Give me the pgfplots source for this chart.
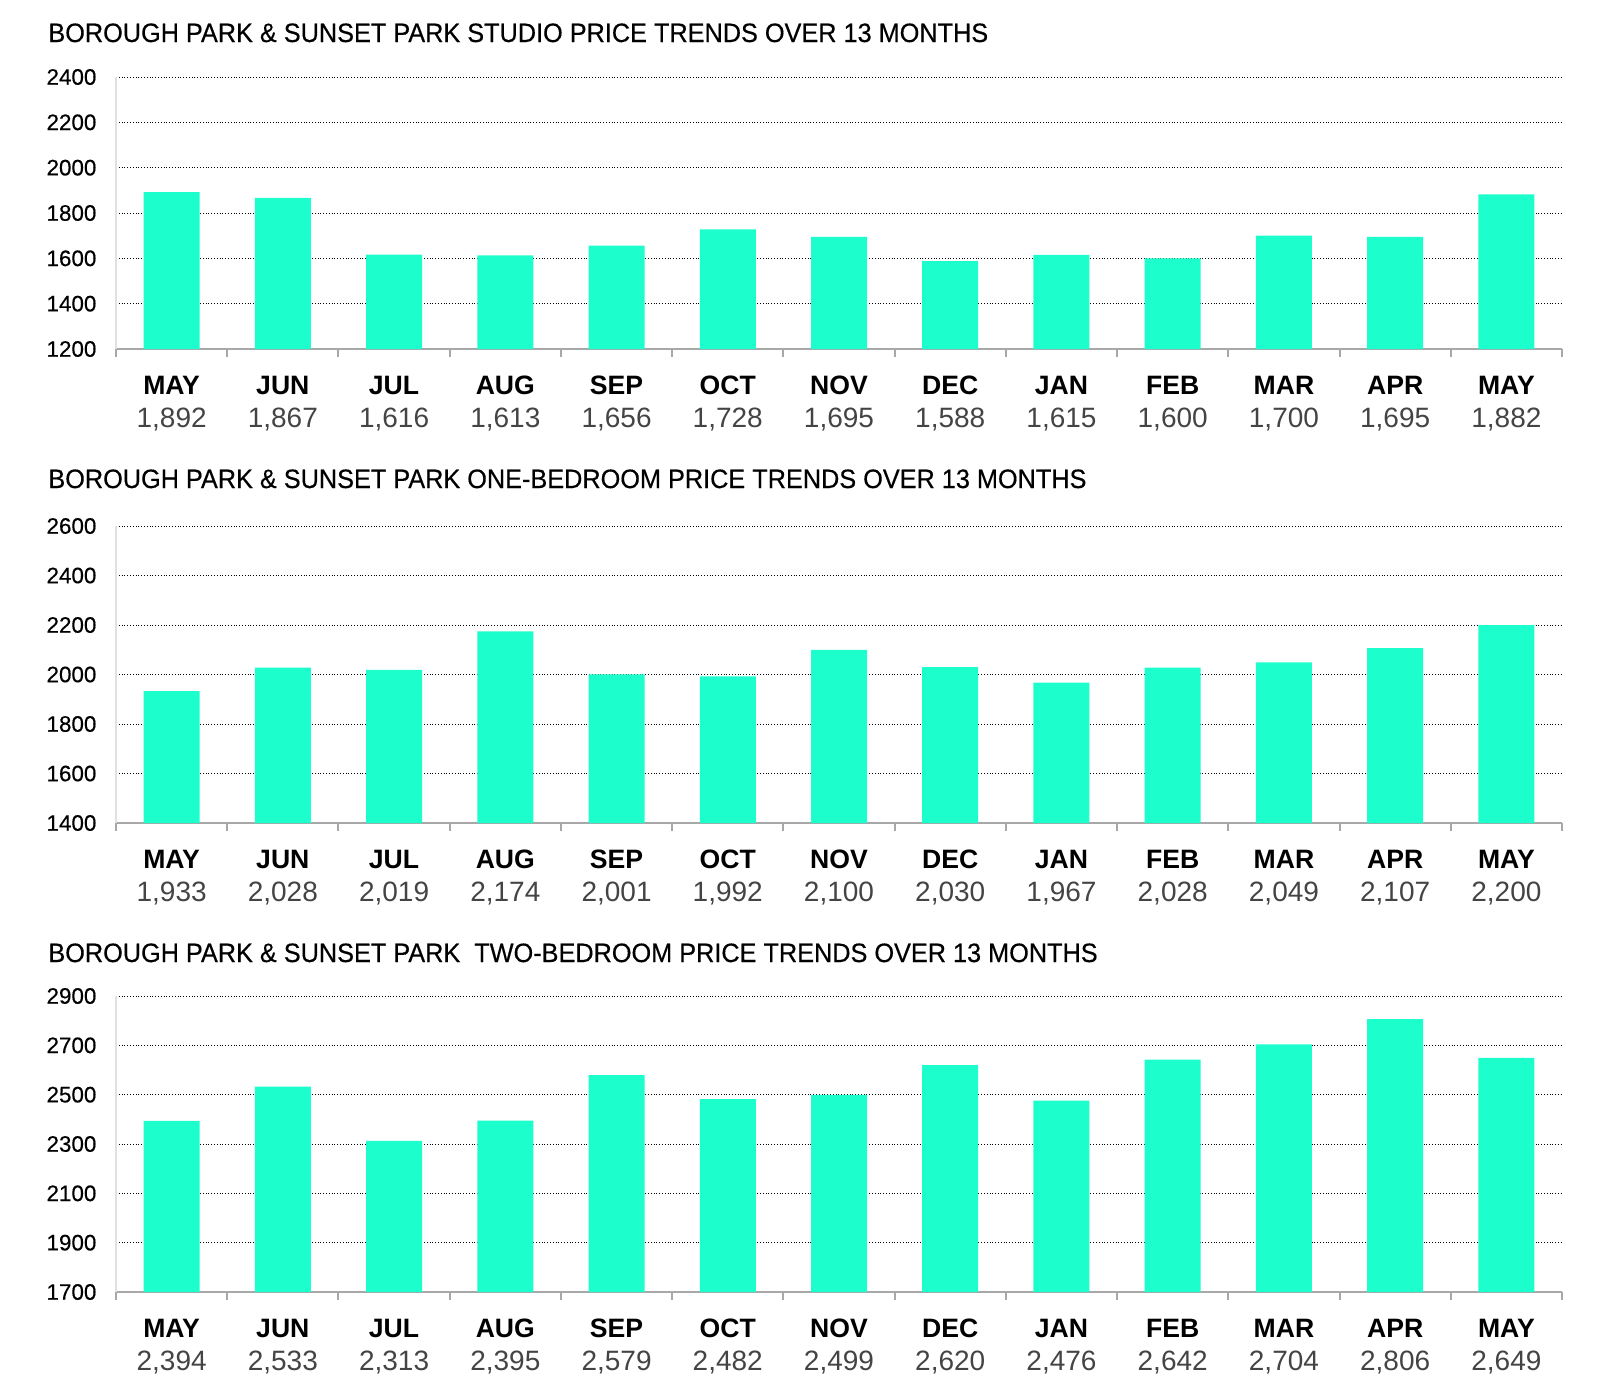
\documentclass[border=0pt]{standalone}
\usepackage{pgfplots}
\pgfplotsset{compat=1.18}
\usepackage{graphicx}
\usepackage{fontspec}
\setmainfont{Liberation Sans}
\newfontfamily\medfont[FakeBold=0.4]{Liberation Sans}
\definecolor{barc}{HTML}{1CFFCC}
\definecolor{valgray}{HTML}{444444}
\definecolor{axgray}{HTML}{A8A8A8}
\newcommand{\ml}[2]{\textbf{\strut #1}\\{\color{valgray}\fontsize{14}{16}\selectfont\strut #2}}
\newcommand{\ttl}[1]{\scalebox{0.95}[1]{\medfont\fontsize{13.3}{15}\selectfont #1}}

\pgfplotsset{
  panel/.style={
    scale only axis, width=723pt,
    xmin=-0.5, xmax=12.5,
    axis x line=bottom, axis y line=left,
    x axis line style={-, draw=axgray, line width=1pt},
    y axis line style={-, draw=black!12, line width=0.6pt},
    xtick={0,...,12}, major x tick style={draw=none},
    minor xtick={-0.5,0.5,...,12.5},
    minor x tick style={draw=axgray, line width=1pt},
    minor tick length=4pt, tick align=outside,
    ytick style={draw=none},
    ymajorgrids, major grid style={densely dotted, black, line width=0.5pt},
    yticklabel={\pgfmathprintnumber[1000 sep={},assume math mode=true]{\tick}},
    yticklabel style={font=\medfont\fontsize{11.2}{13}\selectfont, xshift=-2pt},
    xticklabel style={align=center, font=\fontsize{13.3}{16.5}\selectfont, yshift=-3.5pt},
    anchor=north west,
  },
  bars/.style={ybar, fill=barc, draw=none, bar width=28pt},
}

\begin{document}
\begin{tikzpicture}
\path[use as bounding box] (0,0) rectangle (800pt,-699.5pt);

\node[anchor=base west, inner sep=0pt] at (24pt,-21pt) {\ttl{BOROUGH PARK \& SUNSET PARK STUDIO PRICE TRENDS OVER 13 MONTHS}};
\begin{axis}[panel, at={(58pt,-38.5pt)}, height=136pt,
  ymin=1200, ymax=2400, ytick={1200,1400,...,2400},
  xticklabels={\ml{MAY}{1,892},\ml{JUN}{1,867},\ml{JUL}{1,616},\ml{AUG}{1,613},\ml{SEP}{1,656},\ml{OCT}{1,728},\ml{NOV}{1,695},\ml{DEC}{1,588},\ml{JAN}{1,615},\ml{FEB}{1,600},\ml{MAR}{1,700},\ml{APR}{1,695},\ml{MAY}{1,882}}]
\addplot[bars] coordinates {(0,1892) (1,1867) (2,1616) (3,1613) (4,1656) (5,1728) (6,1695) (7,1588) (8,1615) (9,1600) (10,1700) (11,1695) (12,1882)};
\end{axis}

\node[anchor=base west, inner sep=0pt] at (24pt,-244pt) {\ttl{BOROUGH PARK \& SUNSET PARK ONE-BEDROOM PRICE TRENDS OVER 13 MONTHS}};
\begin{axis}[panel, at={(58pt,-263pt)}, height=148.5pt,
  ymin=1400, ymax=2600, ytick={1400,1600,...,2600},
  xticklabels={\ml{MAY}{1,933},\ml{JUN}{2,028},\ml{JUL}{2,019},\ml{AUG}{2,174},\ml{SEP}{2,001},\ml{OCT}{1,992},\ml{NOV}{2,100},\ml{DEC}{2,030},\ml{JAN}{1,967},\ml{FEB}{2,028},\ml{MAR}{2,049},\ml{APR}{2,107},\ml{MAY}{2,200}}]
\addplot[bars] coordinates {(0,1933) (1,2028) (2,2019) (3,2174) (4,2001) (5,1992) (6,2100) (7,2030) (8,1967) (9,2028) (10,2049) (11,2107) (12,2200)};
\end{axis}

\node[anchor=base west, inner sep=0pt] at (24pt,-481pt) {\ttl{BOROUGH PARK \& SUNSET PARK \ TWO-BEDROOM PRICE TRENDS OVER 13 MONTHS}};
\begin{axis}[panel, at={(58pt,-498pt)}, height=148pt,
  ymin=1700, ymax=2900, ytick={1700,1900,...,2900},
  xticklabels={\ml{MAY}{2,394},\ml{JUN}{2,533},\ml{JUL}{2,313},\ml{AUG}{2,395},\ml{SEP}{2,579},\ml{OCT}{2,482},\ml{NOV}{2,499},\ml{DEC}{2,620},\ml{JAN}{2,476},\ml{FEB}{2,642},\ml{MAR}{2,704},\ml{APR}{2,806},\ml{MAY}{2,649}}]
\addplot[bars] coordinates {(0,2394) (1,2533) (2,2313) (3,2395) (4,2579) (5,2482) (6,2499) (7,2620) (8,2476) (9,2642) (10,2704) (11,2806) (12,2649)};
\end{axis}
\end{tikzpicture}
\end{document}
